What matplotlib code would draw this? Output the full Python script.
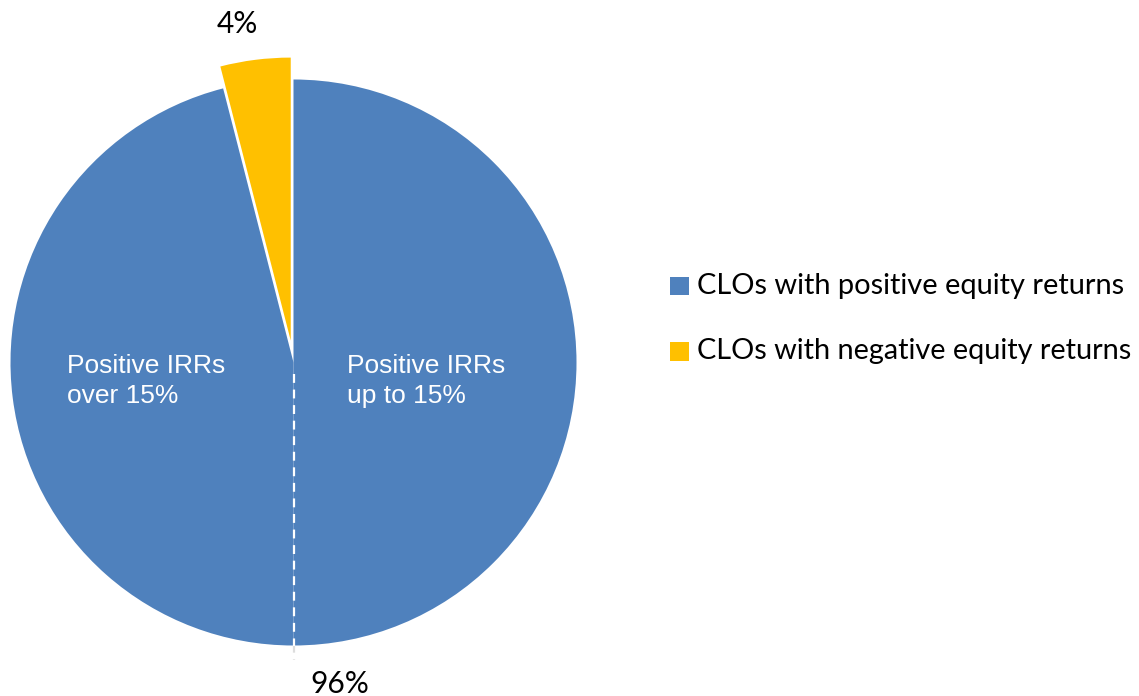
import matplotlib
matplotlib.use("Agg")
import matplotlib.pyplot as plt
from matplotlib.patches import Rectangle

# slices, clockwise from 12 o'clock
slice_names = ["Positive IRRs\nup to 15%", "Positive IRRs\nover 15%", "negative"]
slice_values = [50, 46, 4]
slice_colors = ["#4F81BD", "#4F81BD", "#FFC000"]
explode = [0, 0, 0.078]

legend_labels = ["CLOs with positive equity returns", "CLOs with negative equity returns"]
legend_colors = ["#4F81BD", "#FFC000"]
outer_labels = ["96%", "4%"]

W, H = 1139, 696
fig = plt.figure(figsize=(W / 100, H / 100), dpi=100)

# pie centre (293.5, 362.5) px, radius 283 px
cx, cy, r = 293.5, 362.5, 283
ax = fig.add_axes([(cx - r) / W, (H - cy - r) / H, 2 * r / W, 2 * r / H])

wedges, _ = ax.pie(slice_values, colors=slice_colors, explode=explode,
                   startangle=90, counterclock=False, radius=1,
                   wedgeprops=dict(linewidth=0))
for w in wedges:
    w.set_clip_on(False)
ax.set_xlim(-1, 1)
ax.set_ylim(-1, 1)
ax.set_aspect("equal")
ax.axis("off")

# white edge between the two blue parts, dashed
ax.plot([0, 0], [-0.04, -1.0], color="white", lw=1.6, ls=(0, (4, 3)), clip_on=False)
ax.plot([0, 0], [-1.0, -1.05], color="#DDDDDD", lw=1.6, ls=(0, (3, 3)), clip_on=False)

# labels inside the blue parts
ax.text(0.19, -0.065, slice_names[0], color="white", fontsize=19,
        family="Liberation Sans", ha="left", va="center", linespacing=1.3)
ax.text(-0.8, -0.065, slice_names[1], color="white", fontsize=19,
        family="Liberation Sans", ha="left", va="center", linespacing=1.3)

# percentage labels
ax.text(0.165, -1.135, outer_labels[0], fontsize=21.5, family="Lato",
        ha="center", va="center", clip_on=False)
ax.text(-0.2, 1.195, outer_labels[1], fontsize=21.5, family="Lato",
        ha="center", va="center", clip_on=False)

# legend drawn by hand: squares + text, text fitted to the reference width
renderer = fig.canvas.get_renderer()
for i, (lab, col) in enumerate(zip(legend_labels, legend_colors)):
    yc = 286 + i * 65  # row centre, px from top
    fig.patches.append(Rectangle((670 / W, 1 - (yc + 9.5) / H), 19 / W, 19 / H,
                                 transform=fig.transFigure, facecolor=col,
                                 edgecolor="none"))
    t = fig.text(697 / W, 1 - yc / H, lab, family="Lato", fontsize=21,
                 ha="left", va="center")
    target = 428 if i == 0 else 436
    wpx = t.get_window_extent(renderer).width
    t.set_fontsize(21 * target / wpx)

fig.savefig("out.png", dpi=100)
